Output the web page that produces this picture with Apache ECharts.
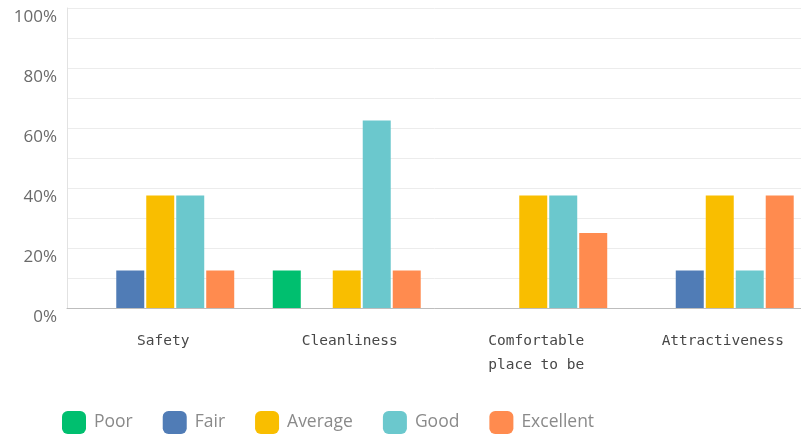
<!DOCTYPE html>
<html>
<head>
<meta charset="utf-8">
<script src="https://cdn.jsdelivr.net/npm/echarts@6/dist/echarts.min.js"></script>
<style>
  html, body { margin: 0; padding: 0; background: #ffffff; }
  #chart { width: 801px; height: 437px; }
</style>
</head>
<body>
<div id="chart"></div>
<script>
// Rating categories along the x axis
const categories = ['Safety', 'Cleanliness', 'Comfortable\nplace to be', 'Attractiveness'];

// Share of respondents (%) giving each rating
const poor      = [0,    12.5, 0,    0];
const fair      = [12.5, 0,    0,    12.5];
const average   = [37.5, 12.5, 37.5, 37.5];
const good      = [37.5, 62.5, 37.5, 12.5];
const excellent = [12.5, 12.5, 25,   37.5];

const seriesNames = ['Poor', 'Fair', 'Average', 'Good', 'Excellent'];
const seriesData = [poor, fair, average, good, excellent];
const colors = ['#00bf6f', '#507cb6', '#f9be00', '#6bc8cd', '#ff8b4f'];

const chart = echarts.init(document.getElementById('chart'), null, { renderer: 'canvas' });

// Pad shorter lines so a multi-line label stays left-aligned inside its centered block
function blockLabel(v) {
  const lines = v.split('\n');
  const maxLen = Math.max.apply(null, lines.map(function (l) { return l.length; }));
  return lines.map(function (l) { return l + ' '.repeat(maxLen - l.length); }).join('\n');
}

chart.setOption({
  animation: false,
  backgroundColor: '#ffffff',
  color: colors,
  grid: { left: 67, top: 8, bottom: 129, width: 746, containLabel: false, outerBoundsMode: 'none' },
  legend: {
    left: 57,
    top: 406,
    icon: 'roundRect',
    itemWidth: 24,
    itemHeight: 23,
    itemGap: 30,
    textStyle: { fontFamily: 'Open Sans', fontSize: 17.5, color: '#8a8a8a', padding: [0, 0, 0, 3] },
    data: seriesNames
  },
  xAxis: {
    type: 'category',
    data: categories,
    axisTick: { show: false },
    splitLine: { show: false },
    axisLine: { show: true, lineStyle: { color: '#bdbdbd', width: 1 } },
    axisLabel: {
      margin: 21,
      fontFamily: 'DejaVu Sans Mono',
      fontSize: 14.5,
      lineHeight: 24,
      color: '#474747',
      align: 'center',
      padding: [0, 0, 0, 6],
      formatter: blockLabel
    }
  },
  yAxis: {
    type: 'value',
    min: 0,
    max: 100,
    interval: 10,
    axisLine: { show: true, lineStyle: { color: '#e2e2e2' } },
    axisTick: { show: false },
    splitLine: { show: true, lineStyle: { color: '#ececec', width: 1 } },
    axisLabel: {
      margin: 10,
      fontFamily: 'Open Sans',
      fontSize: 17,
      color: '#6a6a6a',
      verticalAlign: 'top',
      padding: [1, 0, 0, 0],
      formatter: function (v) { return v % 20 === 0 ? v + '%' : ''; }
    }
  },
  series: seriesNames.map(function (name, i) {
    return {
      name: name,
      type: 'bar',
      data: seriesData[i],
      barWidth: 28,
      barGap: '7.1%',
      itemStyle: { color: colors[i] }
    };
  })
});
</script>
</body>
</html>
